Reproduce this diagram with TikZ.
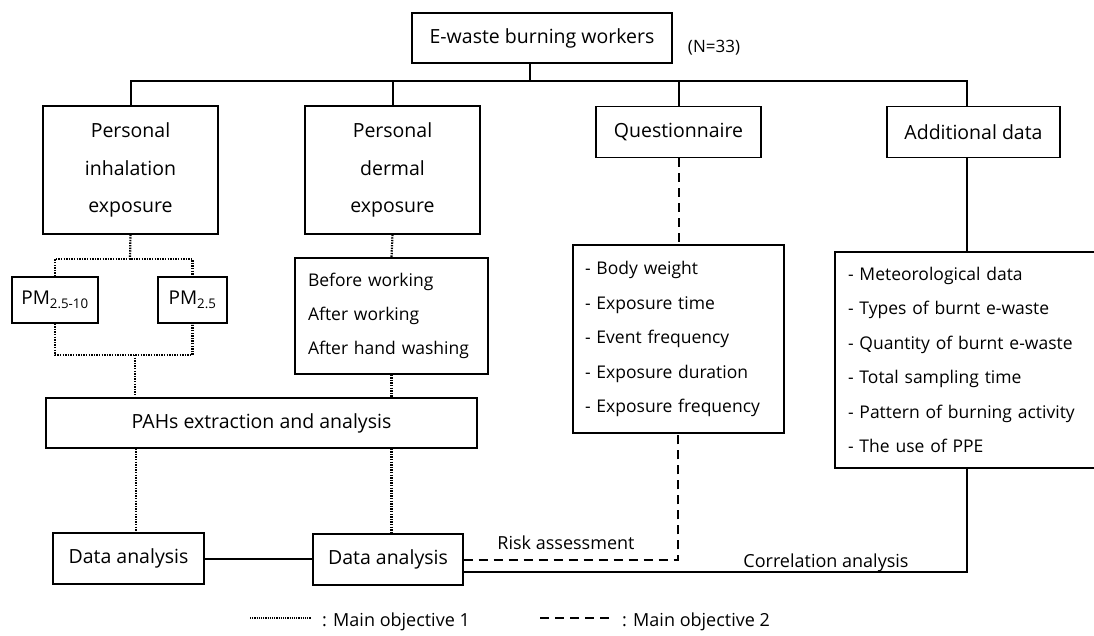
\documentclass[tikz,border=0pt]{standalone}
\usepackage{fontspec}
\setmainfont{Open Sans}
\begin{document}
\begin{tikzpicture}[x=1pt,y=-1pt,
  box/.style={draw, line width=1.3pt, inner sep=0pt, align=center, font=\fontsize{19.5}{37.5}\selectfont},
  listbox/.style={draw, line width=1.3pt, inner ysep=0pt, align=left, font=\fontsize{17.5}{34.5}\selectfont},
  conn/.style={line width=2pt},
  dotline/.style={line width=2.2pt, dash pattern=on 1.4pt off 1.2pt},
  dashline/.style={line width=2pt, dash pattern=on 9pt off 6pt},
  lbl/.style={inner sep=0pt, font=\fontsize{18}{22}\selectfont}]
\useasboundingbox (0,0) rectangle (1094,636);

% boxes
\node[box, minimum width=260pt, minimum height=50pt] (top) at (542,38) {E-waste burning workers};
\node[lbl, font=\fontsize{17}{21}\selectfont] (n33) at (714,48) {(N=33)};
\node[box, minimum width=175pt, minimum height=128pt] (inh) at (130.5,170) {Personal\\inhalation\\exposure};
\node[box, minimum width=175pt, minimum height=128pt] (derm) at (392.5,170) {Personal\\dermal\\exposure};
\node[box, minimum width=165pt, minimum height=51pt] (quest) at (678.5,132) {Questionnaire};
\node[box, minimum width=173pt, minimum height=51pt] (add) at (973.5,132) {Additional data};

\node[listbox, minimum width=211pt, minimum height=188pt, text width=187pt, inner xsep=12pt] (qlist) at (678.5,339)
  {- Body weight\\- Exposure time\\- Event frequency\\- Exposure duration\\- Exposure frequency};
\node[listbox, minimum width=265pt, minimum height=216pt, text width=239pt, inner xsep=13pt] (alist) at (967.5,360)
  {- Meteorological data\\- Types of burnt e-waste\\- Quantity of burnt e-waste\\- Total sampling time\\- Pattern of burning activity\\- The use of PPE};
\node[listbox, minimum width=193pt, minimum height=116pt, text width=167pt, inner xsep=13pt, font=\fontsize{17.5}{34}\selectfont] (dlist) at (391.5,316)
  {Before working\\After working\\After hand washing};

\node[box, minimum width=86pt, minimum height=46pt, font=\fontsize{19}{24}\selectfont] (pm1) at (55,300) {PM\textsubscript{2.5-10}};
\node[box, minimum width=69pt, minimum height=46pt, font=\fontsize{19}{24}\selectfont] (pm2) at (192.5,300) {PM\textsubscript{2.5}};

\node[box, minimum width=431pt, minimum height=50pt] (pahs) at (261.5,423) {PAHs extraction and analysis};
\node[box, minimum width=151pt, minimum height=51pt] (da1) at (128.5,558.5) {Data analysis};
\node[box, minimum width=150pt, minimum height=51pt] (da2) at (388,559.5) {Data analysis};

% coordinates
\coordinate (bus) at (530,81);
\coordinate (busR) at (967,81);
\coordinate (pmt) at (130,259);
\coordinate (pmb) at (135,355);
\coordinate (c1) at (136,0);
\coordinate (rk) at (678,560);
\coordinate (cr) at (967,572);

% solid tree
\draw[conn] (top.south -| bus) -- (bus);
\draw[conn] (inh.north) |- (busR) -- (busR |- add.north);
\draw[conn] (derm.north) -- (derm.north |- bus);
\draw[conn] (quest.north) -- (quest.north |- bus);
\draw[conn] (add.south -| busR) -- (alist.north -| busR);
\draw[dashline] (quest.south) -- (qlist.north);

% dotted objective 1
\draw[dotline] (inh.south) -- (pmt);
\draw[dotline] (pm1.north) |- (pmt) -| (pm2.north);
\draw[dotline] (pm1.south) |- (pmb) -| (pm2.south);
\draw[dotline] (pmb) -- (pmb |- pahs.north);
\draw[dotline] (derm.south) -- (dlist.north);
\draw[dotline] (dlist.south) -- (dlist.south |- pahs.north);
\draw[dotline] (pahs.south -| c1) -- (da1.north -| c1);
\draw[dotline] (pahs.south -| dlist.south) -- (da2.north -| dlist.south);

% bottom
\draw[conn] (da1.east) -- (da1.east -| da2.west);
\draw[dashline] (da2.east |- rk) -- (rk) -- (qlist.south -| rk);
\draw[conn] (da2.east |- cr) -- (cr) -- (alist.south -| cr);
\node[lbl] (risk) at (566,543) {Risk assessment};
\node[lbl] (corr) at (826,563) {Correlation analysis};

% legend
\coordinate (l1a) at (250,618);
\coordinate (l1b) at (311,618);
\coordinate (l2a) at (540,618);
\coordinate (l2b) at (610,618);
\draw[line width=1.6pt, dash pattern=on 1.2pt off 1pt] (l1a) -- (l1b);
\draw[dashline] (l2a) -- (l2b);
\node[lbl, anchor=west] (leg1) at (322,622) {: Main objective 1};
\node[lbl, anchor=west] (leg2) at (622,622) {: Main objective 2};
\end{tikzpicture}
\end{document}
